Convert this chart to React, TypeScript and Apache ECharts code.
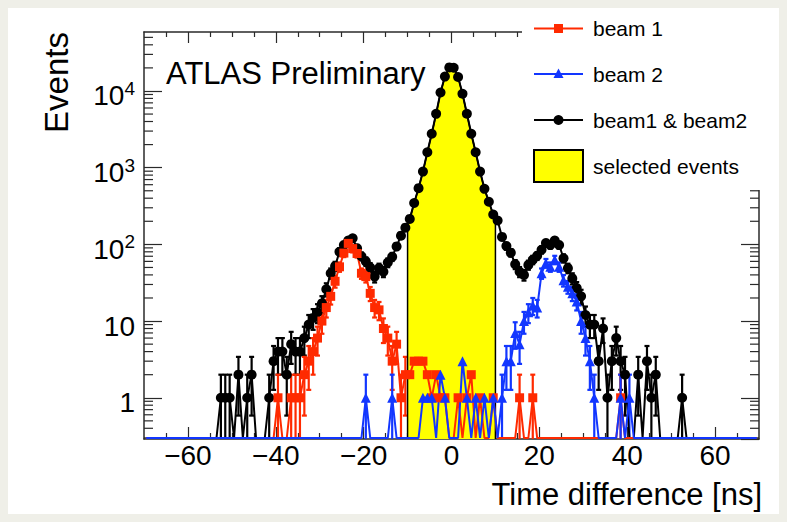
import React, { useEffect, useRef } from 'react';
import * as echarts from 'echarts';

// ---------- data (1 ns bins from -70 to 70 ns) ----------
const BIN_START = -70;
const BIN_WIDTH = 1;

// beam1 & beam2 (black circles)
const BEAM_BOTH = [
  0, 0, 0, 0, 0, 0, 0, 0, 0, 0,
  0, 0, 0, 0, 0, 0, 0, 1, 1, 1,
  0, 2, 0, 1, 2, 0, 0, 0, 1, 3,
  4, 4, 2, 5, 4, 4, 6, 9, 11, 13,
  17, 26, 42, 52, 80, 98, 112, 120, 89, 70,
  60, 50, 38, 49, 44, 58, 69, 94, 130, 165,
  215, 346, 540, 890, 1590, 2770, 5040, 9550, 15400, 20300,
  20100, 15200, 9200, 5050, 2770, 1590, 890, 530, 360, 245,
  205, 125, 95, 78, 55, 44, 40, 54, 63, 71,
  85, 104, 98, 112, 98, 66, 49, 36, 27, 21,
  12, 9, 9, 3, 8, 1, 3, 6, 3, 2,
  0, 0, 2, 0, 3, 1, 2, 0, 0, 0,
  0, 0, 1, 0, 0, 0, 0, 0, 0, 0,
  0, 0, 0, 0, 0, 0, 0, 0, 0, 0,
];

// beam 1 (red squares)
const BEAM1 = [
  0, 0, 0, 0, 0, 0, 0, 0, 0, 0,
  0, 0, 0, 0, 0, 0, 0, 0, 0, 0,
  0, 0, 0, 0, 0, 0, 0, 0, 0, 0,
  1, 0, 0, 1, 1, 1, 2, 3, 4, 6,
  10, 15, 21, 33, 51, 77, 103, 88, 76, 42,
  38, 23, 15, 14, 8, 6, 3, 5, 1, 2,
  2, 3, 3, 3, 2, 1, 2, 1, 1, 0,
  0, 1, 0, 1, 2, 0, 1, 0, 0, 1,
  0, 0, 0, 0, 0, 1, 0, 0, 1, 0,
  0, 0, 0, 0, 0, 0, 0, 0, 0, 0,
  0, 0, 0, 0, 0, 0, 0, 0, 1, 0,
  0, 0, 0, 0, 0, 0, 0, 0, 0, 0,
  0, 0, 0, 0, 0, 0, 0, 0, 0, 0,
  0, 0, 0, 0, 0, 0, 0, 0, 0, 0,
];

// beam 2 (blue triangles)
const BEAM2 = [
  0, 0, 0, 0, 0, 0, 0, 0, 0, 0,
  0, 0, 0, 0, 0, 0, 0, 0, 0, 0,
  0, 0, 0, 0, 0, 0, 0, 0, 0, 0,
  0, 0, 0, 0, 0, 0, 0, 0, 0, 0,
  0, 0, 0, 0, 0, 0, 0, 0, 0, 0,
  1, 0, 0, 0, 0, 0, 1, 0, 0, 0,
  0, 0, 0, 1, 1, 1, 0, 2, 1, 0,
  0, 0, 3, 1, 0, 1, 0, 1, 0, 1,
  0, 1, 3, 3, 7, 5, 10, 13, 16, 15,
  42, 57, 51, 63, 51, 34, 28, 23, 18, 10,
  6, 3, 1, 0, 0, 0, 0, 0, 1, 0,
  1, 0, 0, 0, 0, 0, 0, 0, 0, 0,
  0, 0, 0, 0, 0, 0, 0, 0, 0, 0,
  0, 0, 0, 0, 0, 0, 0, 0, 0, 0,
];

const SELECTED_RANGE = [-10, 10];

const X_MAJOR_TICKS = [-60, -40, -20, 0, 20, 40, 60];
const X_MINOR_TICKS = [-65, -55, -50, -45, -35, -30, -25, -15, -10, -5, 5, 10, 15, 25, 30, 35, 45, 50, 55, 65];
const Y_TICK_LABELS = [1, 10, 100, 1000, 10000];

const LEGEND_ITEMS = ['beam 1', 'beam 2', 'beam1 & beam2', 'selected events'];

// ---------- styling ----------
const X_MIN = -70;
const X_MAX = 70;
const Y_MIN = 0.29;
const Y_MAX = 58750;
const Y_ZERO = Y_MIN * 1.03; // where empty bins are drawn (on the bottom frame)
const FONT = '"Liberation Sans", Arial, Helvetica, sans-serif';
const RED = '#ff2a00';
const BLUE = '#1236ff';
const BLACK = '#000000';
const YELLOW = '#ffff00';
const AXIS_COLOR = '#2a2a2a';
const CAP = 2.5;
const MINOR_LEN_Y = 9;

const CENTERS = BEAM_BOTH.map((_, i) => BIN_START + BIN_WIDTH * (i + 0.5));

function lineSeries(name: string, values: number[], color: string, symbol: string, size: number) {
  return {
    type: 'line',
    name,
    xAxisIndex: 0,
    yAxisIndex: 0,
    data: values.map((v, i) =>
      v > 0 ? { value: [CENTERS[i], v] } : { value: [CENTERS[i], Y_ZERO], symbol: 'none' }
    ),
    symbol,
    symbolSize: size,
    showSymbol: true,
    showAllSymbol: true,
    clip: true,
    lineStyle: { color, width: 2 },
    itemStyle: { color, borderWidth: 0 },
    emphasis: { disabled: true },
    silent: true,
  };
}

function errorSeries(values: number[], color: string) {
  const data: number[][] = [];
  values.forEach((v, i) => {
    if (v > 0) {
      const e = Math.sqrt(v);
      data.push([CENTERS[i], Math.max(v - e, Y_MIN), v + e]);
    }
  });
  return {
    type: 'custom',
    xAxisIndex: 0,
    yAxisIndex: 0,
    silent: true,
    dimensions: ['x', 'lo', 'hi'],
    encode: { x: 0, y: [1, 2] },
    data,
    renderItem: (_params: any, api: any) => {
      const x = api.value(0);
      const lo = api.value(1);
      const hi = api.value(2);
      const a = api.coord([x, hi]);
      const b = api.coord([x, lo]);
      const style = { stroke: color, lineWidth: 2.2 };
      const children: any[] = [
        { type: 'line', shape: { x1: a[0], y1: a[1], x2: b[0], y2: b[1] }, style },
        { type: 'line', shape: { x1: a[0] - CAP, y1: a[1], x2: a[0] + CAP, y2: a[1] }, style },
      ];
      if (lo > Y_MIN * 1.001) {
        children.push({ type: 'line', shape: { x1: b[0] - CAP, y1: b[1], x2: b[0] + CAP, y2: b[1] }, style });
      }
      return { type: 'group', children };
    },
  };
}

export default function App() {
  const ref = useRef<HTMLDivElement>(null);

  useEffect(() => {
    document.body.style.backgroundColor = '#efefe8';
    if (!ref.current) return;
    const chart = echarts.init(ref.current, null, { renderer: 'svg' });

    // selected events area (part of beam1 & beam2 inside the time window)
    const selPts: number[][] = [];
    CENTERS.forEach((c, i) => {
      if (c > SELECTED_RANGE[0] && c < SELECTED_RANGE[1]) selPts.push([c, BEAM_BOTH[i]]);
    });
    const selData = [
      [SELECTED_RANGE[0], Y_MIN],
      [SELECTED_RANGE[0], selPts[0][1]],
      ...selPts,
      [SELECTED_RANGE[1], selPts[selPts.length - 1][1]],
      [SELECTED_RANGE[1], Y_MIN],
    ];

    const yMinor: number[][] = [];
    for (let k = -1; k <= 4; k++) {
      for (let m = 2; m <= 9; m++) {
        const v = m * Math.pow(10, k);
        if (v > Y_MIN && v < Y_MAX) yMinor.push([X_MIN, v]);
      }
    }

    const xBase = {
      type: 'value',
      min: X_MIN,
      max: X_MAX,
      gridIndex: 0,
      splitLine: { show: false },
    };
    const axisLineStyle = { color: AXIS_COLOR, width: 1.5 };
    const tickStyle = { color: AXIS_COLOR, width: 1.2 };

    const legendRows = [20.5, 66, 112, 158];
    const lx1 = 526;
    const lx2 = 575;
    const lmx = (lx1 + lx2) / 2;
    const textX = 585;
    const legendText = (i: number) => ({
      type: 'text',
      x: textX,
      y: legendRows[i],
      z: 101,
      style: { text: LEGEND_ITEMS[i], fontSize: 21, fontFamily: FONT, fill: '#000', verticalAlign: 'middle', align: 'left' },
    });
    const legendLine = (i: number, color: string) => ({
      type: 'line',
      z: 101,
      shape: { x1: lx1, y1: legendRows[i], x2: lx2, y2: legendRows[i] },
      style: { stroke: color, lineWidth: 2 },
    });

    const option: any = {
      animation: false,
      backgroundColor: '#ffffff',
      grid: { left: 136, top: 24, width: 615, height: 407, containLabel: false, outerBoundsMode: 'none' },
      xAxis: [
        {
          ...xBase,
          position: 'bottom',
          axisLine: { show: true, onZero: false, lineStyle: axisLineStyle },
          axisTick: { show: true, inside: true, length: 12, customValues: X_MAJOR_TICKS, lineStyle: tickStyle },
          axisLabel: {
            customValues: X_MAJOR_TICKS,
            formatter: (v: number) => (v < 0 ? '\u2212' + Math.abs(v) : String(v)),
            fontSize: 28,
            fontFamily: FONT,
            color: '#000',
            margin: 2,
          },
          name: 'Time difference [ns]',
          nameLocation: 'end',
          nameGap: 3,
          nameTextStyle: {
            fontSize: 31,
            fontFamily: FONT,
            color: '#000',
            align: 'right',
            verticalAlign: 'top',
            padding: [40, 0, 0, 0],
          },
        },
        {
          ...xBase,
          position: 'bottom',
          axisLine: { show: false, onZero: false },
          axisTick: { show: true, inside: true, length: 6, customValues: X_MINOR_TICKS, lineStyle: tickStyle },
          axisLabel: { show: false },
        },
        {
          ...xBase,
          position: 'top',
          axisLine: { show: true, onZero: false, lineStyle: axisLineStyle },
          axisTick: { show: true, inside: true, length: 11, customValues: X_MAJOR_TICKS, lineStyle: tickStyle },
          axisLabel: { show: false },
        },
        {
          ...xBase,
          position: 'top',
          axisLine: { show: false, onZero: false },
          axisTick: { show: true, inside: true, length: 5, customValues: X_MINOR_TICKS, lineStyle: tickStyle },
          axisLabel: { show: false },
        },
      ],
      yAxis: [
        {
          type: 'log',
          logBase: 10,
          min: Y_MIN,
          max: Y_MAX,
          position: 'left',
          splitLine: { show: false },
          minorTick: { show: false },
          axisLine: { show: true, onZero: false, lineStyle: axisLineStyle },
          axisTick: { show: true, inside: true, length: 18, lineStyle: tickStyle },
          axisLabel: {
            margin: 9,
            padding: [10, 0, 0, 0],
            showMinLabel: false,
            showMaxLabel: false,
            formatter: (v: number) => {
              const l = Math.log10(v);
              const k = Math.round(l);
              if (Math.abs(l - k) > 1e-6 || Y_TICK_LABELS.indexOf(Math.pow(10, k)) < 0) return '';
              if (k === 0) return '{b|1}';
              if (k === 1) return '{b|10}';
              return '{b|10}{sup|' + k + '}';
            },
            rich: {
              b: { fontSize: 28, fontFamily: FONT, color: '#000', lineHeight: 34 },
              sup: { fontSize: 19, fontFamily: FONT, color: '#000', lineHeight: 19, verticalAlign: 'top' },
            },
          },
          name: 'Events',
          nameLocation: 'end',
          nameGap: 0,
          nameRotate: 90,
          nameTextStyle: {
            fontSize: 33,
            fontFamily: FONT,
            color: '#000',
            align: 'right',
            verticalAlign: 'bottom',
            padding: [0, 0, 71, 0],
          },
        },
        {
          type: 'log',
          logBase: 10,
          min: Y_MIN,
          max: Y_MAX,
          position: 'right',
          splitLine: { show: false },
          axisLine: { show: true, onZero: false, lineStyle: axisLineStyle },
          axisTick: { show: true, inside: true, length: 18, lineStyle: tickStyle },
          axisLabel: { show: false },
        },
      ],
      series: [
        {
          type: 'custom',
          name: 'minor ticks',
          xAxisIndex: 0,
          yAxisIndex: 0,
          silent: true,
          encode: { x: 0, y: 1 },
          data: yMinor,
          renderItem: (params: any, api: any) => {
            const cs = params.coordSys;
            const y = api.coord([X_MIN, api.value(1)])[1];
            const st = { stroke: AXIS_COLOR, lineWidth: 1.2 };
            return {
              type: 'group',
              children: [
                { type: 'line', shape: { x1: cs.x, y1: y, x2: cs.x + MINOR_LEN_Y, y2: y }, style: st },
                { type: 'line', shape: { x1: cs.x + cs.width, y1: y, x2: cs.x + cs.width - MINOR_LEN_Y, y2: y }, style: st },
              ],
            };
          },
        },
        {
          type: 'line',
          name: 'selected events',
          xAxisIndex: 0,
          yAxisIndex: 0,
          data: selData,
          symbol: 'none',
          silent: true,
          lineStyle: { color: BLACK, width: 1.5 },
          areaStyle: { color: YELLOW, opacity: 1, origin: 'start' },
        },
        errorSeries(BEAM_BOTH, BLACK),
        lineSeries('beam1 & beam2', BEAM_BOTH, BLACK, 'circle', 10),
        errorSeries(BEAM1, RED),
        lineSeries('beam 1', BEAM1, RED, 'rect', 9),
        errorSeries(BEAM2, BLUE),
        lineSeries('beam 2', BEAM2, BLUE, 'triangle', 10),
      ],
      graphic: [
        { type: 'rect', z: 100, shape: { x: 514, y: 0, width: 257, height: 182 }, style: { fill: '#ffffff' }, silent: true },
        {
          type: 'text',
          x: 158,
          y: 65,
          z: 101,
          style: { text: 'ATLAS Preliminary', fontSize: 31, fontFamily: FONT, fill: '#000', verticalAlign: 'middle' },
        },
        legendLine(0, RED),
        { type: 'rect', z: 102, shape: { x: lmx - 4.5, y: legendRows[0] - 4.5, width: 9, height: 9 }, style: { fill: RED } },
        legendText(0),
        legendLine(1, BLUE),
        {
          type: 'polygon',
          z: 102,
          shape: { points: [[lmx, legendRows[1] - 5.5], [lmx - 5, legendRows[1] + 4], [lmx + 5, legendRows[1] + 4]] },
          style: { fill: BLUE },
        },
        legendText(1),
        legendLine(2, BLACK),
        { type: 'circle', z: 102, shape: { cx: lmx, cy: legendRows[2], r: 5 }, style: { fill: BLACK } },
        legendText(2),
        {
          type: 'rect',
          z: 101,
          shape: { x: lx1, y: legendRows[3] - 16, width: 49, height: 32 },
          style: { fill: YELLOW, stroke: BLACK, lineWidth: 2 },
        },
        legendText(3),
      ],
    };

    chart.setOption(option);
    return () => {
      chart.dispose();
    };
  }, []);

  return <div ref={ref} style={{ width: 771, height: 506, background: '#ffffff' }} />;
}
